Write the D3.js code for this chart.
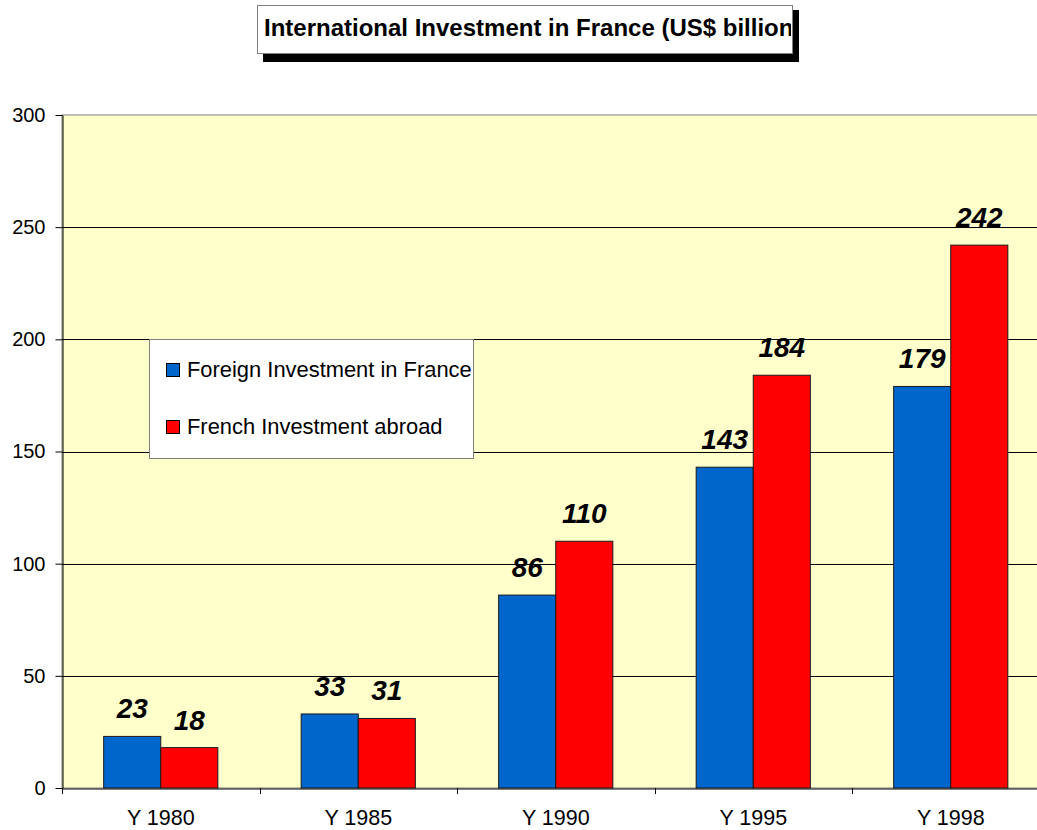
<!DOCTYPE html>
<html>
<head>
<meta charset="utf-8">
<script src="https://cdn.jsdelivr.net/npm/d3@7"></script>
<style>
  html, body { margin: 0; padding: 0; background: #ffffff; }
  svg { display: block; font-family: "Liberation Sans", Arial, sans-serif; }
</style>
</head>
<body>
<svg id="chart" width="1037" height="830"></svg>
<script>
const categories = ["Y 1980", "Y 1985", "Y 1990", "Y 1995", "Y 1998"];
const seriesNames = ["Foreign Investment in France", "French Investment abroad"];
const foreignInFrance = [23, 33, 86, 143, 179];
const frenchAbroad = [18, 31, 110, 184, 242];
const yTicks = [0, 50, 100, 150, 200, 250, 300];
const titleText = "International Investment in France (US$ billion";
const colors = ["#0066CC", "#FF0000"];

const svg = d3.select("#chart");
const margin = { left: 62, top: 115 };
const plotW = 987.5, plotH = 673;

const x = d3.scaleBand().domain(categories).range([margin.left, margin.left + plotW]).paddingInner(0).paddingOuter(0);
const inner = d3.scaleBand().domain([0, 1]).range([0, x.bandwidth()]).paddingInner(0).paddingOuter(0.73);
const y = d3.scaleLinear().domain([0, 300]).range([margin.top + plotH, margin.top]);

// plot background
svg.append("rect")
  .attr("x", margin.left).attr("y", margin.top)
  .attr("width", plotW).attr("height", plotH)
  .attr("fill", "#FFFFCC").attr("stroke", "#808080").attr("stroke-width", 1);

// gridlines
svg.append("g").selectAll("line")
  .data(yTicks.filter(d => d > 0 && d < 300))
  .join("line")
  .attr("x1", margin.left).attr("x2", margin.left + plotW)
  .attr("y1", d => Math.round(y(d)) + 0.5).attr("y2", d => Math.round(y(d)) + 0.5)
  .attr("stroke", "#000").attr("stroke-width", 1);

// y axis
const yAxis = svg.append("g")
  .attr("transform", `translate(${margin.left + 0.5},0)`)
  .call(d3.axisLeft(y).tickValues(yTicks).tickSize(7).tickPadding(10).tickSizeOuter(0));
yAxis.select(".domain").attr("stroke", "#000");
yAxis.selectAll(".tick line").attr("stroke", "#000");
yAxis.selectAll("text").attr("font-size", "20px").attr("fill", "#000")
  .attr("font-family", "Liberation Sans, Arial, sans-serif");

// x axis
const xAxis = svg.append("g")
  .attr("transform", `translate(0,${margin.top + plotH + 0.5})`)
  .call(d3.axisBottom(x).tickSize(0).tickPadding(21).tickSizeOuter(0));
xAxis.select(".domain").attr("stroke", "#000");
xAxis.selectAll("text").attr("font-size", "21.5px").attr("fill", "#000")
  .attr("font-family", "Liberation Sans, Arial, sans-serif");
// band boundary ticks
svg.append("g").selectAll("line")
  .data(categories.concat(["__end"]))
  .join("line")
  .attr("x1", (d, i) => Math.round(margin.left + i * x.bandwidth()) + 0.5)
  .attr("x2", (d, i) => Math.round(margin.left + i * x.bandwidth()) + 0.5)
  .attr("y1", margin.top + plotH).attr("y2", margin.top + plotH + 6)
  .attr("stroke", "#000");

// bars
const series = [foreignInFrance, frenchAbroad];
const barsG = svg.append("g");
series.forEach((vals, s) => {
  barsG.selectAll(".bar" + s)
    .data(vals)
    .join("rect")
    .attr("x", (d, i) => x(categories[i]) + inner(s))
    .attr("y", d => y(d))
    .attr("width", inner.bandwidth())
    .attr("height", d => y(0) - y(d))
    .attr("fill", colors[s])
    .attr("stroke", "#1a1a1a").attr("stroke-width", 1);
  barsG.selectAll(".lbl" + s)
    .data(vals)
    .join("text")
    .attr("x", (d, i) => x(categories[i]) + inner(s) + inner.bandwidth() / 2)
    .attr("y", d => y(d) - 18)
    .attr("text-anchor", "middle")
    .attr("font-size", "28px").attr("font-weight", "bold").attr("font-style", "italic")
    .attr("fill", "#000")
    .text(d => d);
});

// legend
const lg = svg.append("g");
lg.append("rect").attr("x", 149.5).attr("y", 339.5).attr("width", 324).attr("height", 119)
  .attr("fill", "#fff").attr("stroke", "#808080");
seriesNames.forEach((name, i) => {
  const cy = 370 + i * 57;
  lg.append("rect").attr("x", 166.5).attr("y", cy - 6.5).attr("width", 13).attr("height", 13)
    .attr("fill", colors[i]).attr("stroke", "#000").attr("stroke-width", 1);
  lg.append("text").attr("x", 187).attr("y", cy + 7)
    .attr("font-size", "21.9px").attr("fill", "#000").text(name);
});

// title with shadow box
const tg = svg.append("g");
tg.append("rect").attr("x", 263).attr("y", 10).attr("width", 536).attr("height", 52).attr("fill", "#000");
tg.append("rect").attr("x", 257.5).attr("y", 5.5).attr("width", 535).attr("height", 48)
  .attr("fill", "#fff").attr("stroke", "#808080");
svg.append("clipPath").attr("id", "titleClip")
  .append("rect").attr("x", 258).attr("y", 6).attr("width", 533).attr("height", 47);
tg.append("text").attr("x", 264).attr("y", 36)
  .attr("clip-path", "url(#titleClip)")
  .attr("font-size", "24px").attr("font-weight", "bold").attr("fill", "#000")
  .text(titleText);
</script>
</body>
</html>
